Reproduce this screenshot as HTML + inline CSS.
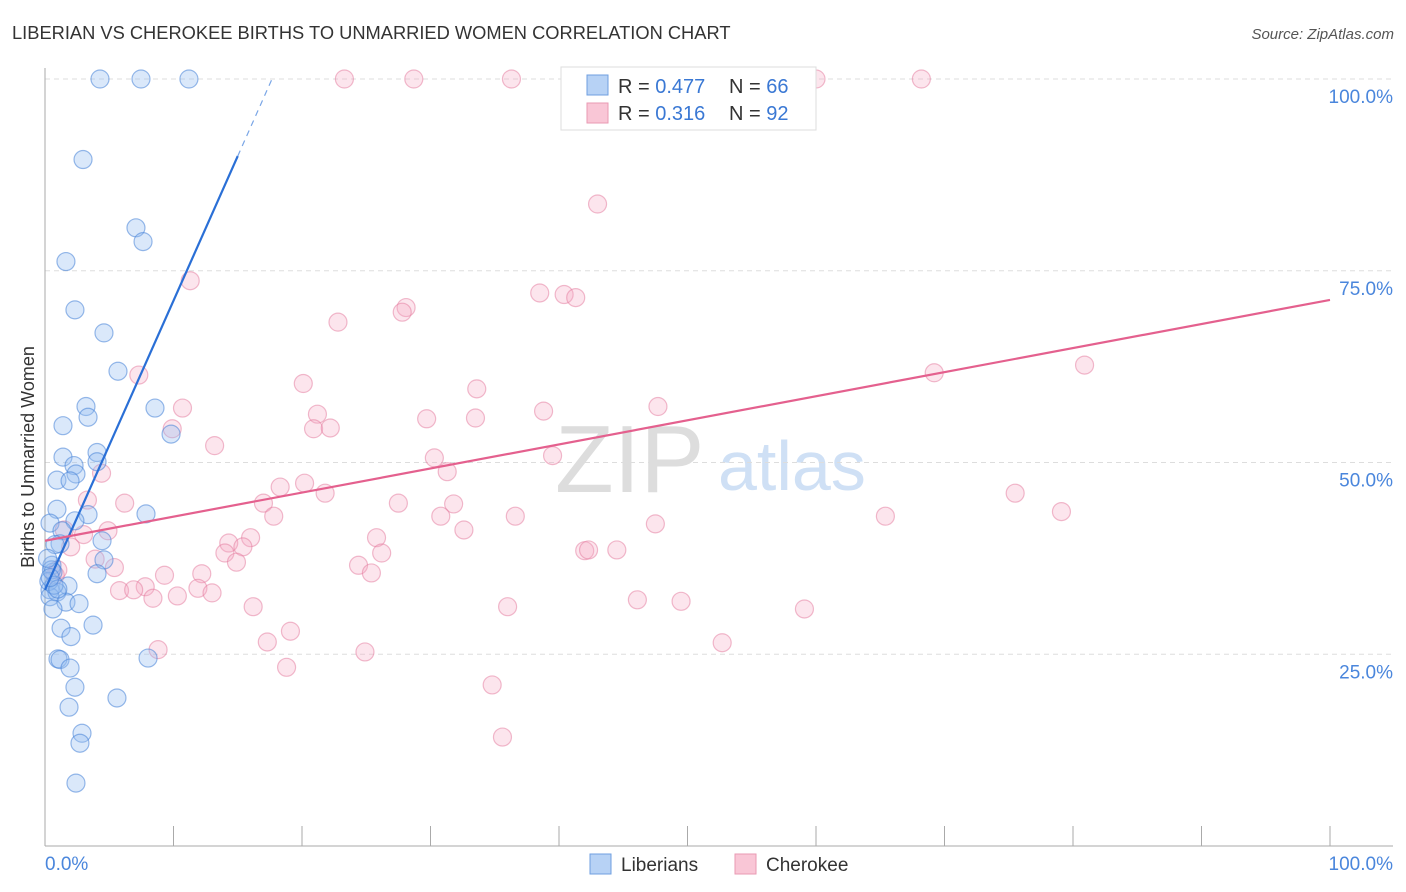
<!DOCTYPE html>
<html><head><meta charset="utf-8"><style>
body{margin:0;background:#fff;font-family:"Liberation Sans",sans-serif;}
#wrap{position:relative;width:1406px;height:892px;overflow:hidden;}
svg text{font-family:"Liberation Sans",sans-serif;}
</style></head><body>
<div id="wrap">
<svg id="chart" width="1406" height="892">
<text x="12" y="39" font-size="18.3" fill="#333">LIBERIAN VS CHEROKEE BIRTHS TO UNMARRIED WOMEN CORRELATION CHART</text>
<text x="1394" y="39" font-size="15" fill="#555" font-style="italic" text-anchor="end">Source: ZipAtlas.com</text>
<text transform="translate(34,457) rotate(-90)" font-size="18" fill="#333" text-anchor="middle">Births to Unmarried Women</text>
<text x="555" y="492" font-size="96" fill="#ddd" font-family="Liberation Serif,serif">ZIP</text>
<text x="718" y="490" font-size="70" fill="#cfe0f5">atlas</text>
<g id="grid"></g><g id="axes"></g><g id="pts"></g><g id="trends"></g>
<g>
<rect x="561" y="67" width="255" height="63" fill="#fff" stroke="#ddd"/>
<rect x="587" y="75" width="21" height="20" fill="#b7d2f5" stroke="#6f9fe0"/>
<rect x="587" y="103" width="21" height="20" fill="#f9c6d6" stroke="#e99ab3"/>
<text x="618" y="93" font-size="20" fill="#333">R = <tspan fill="#3a78d4">0.477</tspan></text>
<text x="729" y="93" font-size="20" fill="#333">N = <tspan fill="#3a78d4">66</tspan></text>
<text x="618" y="120" font-size="20" fill="#333">R =  <tspan fill="#3a78d4">0.316</tspan></text>
<text x="729" y="120" font-size="20" fill="#333">N = <tspan fill="#3a78d4">92</tspan></text>
</g>
<g>
<rect x="590" y="854" width="21" height="20" fill="#b7d2f5" stroke="#6f9fe0"/>
<text x="621" y="871" font-size="19" fill="#333">Liberians</text>
<rect x="735" y="854" width="21" height="20" fill="#f9c6d6" stroke="#e99ab3"/>
<text x="766" y="871" font-size="19" fill="#333">Cherokee</text>
</g>
</svg>
</div>
<script>
const yTicks=[25,50,75,100];
const yTickLabels=["25.0%","50.0%","75.0%","100.0%"];
const xTickLabels=["0.0%","100.0%"];
const blueX=[4.28,7.47,11.2,2.96,7.08,7.63,1.63,2.33,4.59,5.68,3.19,8.56,3.35,1.40,9.81,4.05,1.40,4.05,2.26,2.41,0.93,1.95,7.86,0.93,3.35,0.39,2.33,1.32,4.44,1.17,0.78,4.59,0.54,0.62,4.05,1.79,0.39,0.93,0.39,1.63,2.65,0.62,3.74,1.25,2.02,8.02,1.01,1.17,1.95,2.33,1.87,5.60,2.88,2.72,2.41,0.3,0.5,0.2,0.7,1.0,0.4];
const blueY=[100,100,100,89.5,80.6,78.8,76.2,69.9,66.9,61.9,57.3,57.1,55.9,54.8,53.7,51.3,50.7,50.1,49.6,48.5,47.7,47.6,43.3,43.9,43.2,42.1,42.4,41.1,39.8,39.4,39.3,37.3,36.6,35.7,35.5,33.9,33.4,33.1,32.5,31.8,31.6,30.9,28.8,28.4,27.3,24.5,24.4,24.3,23.2,20.7,18.1,19.3,14.7,13.4,8.2,34.5,36.0,37.5,34.0,33.5,35.0];
const pinkX=[23.3,28.7,36.3,53.2,60.0,68.2,43.0,38.5,40.4,41.3,11.3,28.1,27.8,22.8,7.3,20.1,33.6,69.2,80.9,10.7,21.2,38.8,47.7,29.7,33.5,9.9,20.9,22.2,13.2,30.3,39.5,31.3,4.4,18.3,20.2,21.8,3.3,6.2,17.0,27.5,31.8,75.5,17.8,30.8,36.6,65.4,79.1,32.6,47.5,4.9,3.0,1.5,16.0,25.8,14.3,15.4,14.0,26.2,42.0,42.3,44.5,3.9,14.9,24.4,5.4,25.4,9.3,12.2,0.8,7.8,5.8,6.9,11.9,13.0,8.4,10.3,16.2,36.0,46.1,49.5,59.1,19.1,17.3,52.7,8.8,24.9,18.8,34.8,35.6,1.0,2.0];
const pinkY=[100,100,100,100,100,100,83.7,72.1,71.9,71.5,73.7,70.2,69.6,68.3,61.4,60.3,59.6,61.7,62.7,57.1,56.3,56.7,57.3,55.7,55.8,54.4,54.4,54.5,52.2,50.6,50.9,48.8,48.6,46.8,47.3,46.0,45.1,44.7,44.7,44.7,44.6,46.0,43.0,43.0,43.0,43.0,43.6,41.2,42.0,41.1,40.6,41.2,40.2,40.2,39.5,39.0,38.2,38.2,38.5,38.6,38.6,37.4,37.0,36.6,36.3,35.6,35.3,35.5,35.3,33.8,33.3,33.4,33.6,33.0,32.3,32.6,31.2,31.2,32.1,31.9,30.9,28.0,26.6,26.5,25.6,25.3,23.3,21.0,14.2,36.0,39.0];
const blueTrend=[33.4,3.77];
const pinkTrend=[39.8,0.314];
const NS='http://www.w3.org/2000/svg';
const X0=45,X1=1330,Y0=846,Y100=79;
function sx(v){return X0+(X1-X0)*v/100;}
function sy(v){return Y0-(Y0-Y100)*v/100;}
function mk(p,tag,a){const e=document.createElementNS(NS,tag);for(const k in a)e.setAttribute(k,a[k]);p.appendChild(e);return e;}
const grid=document.getElementById('grid'),axes=document.getElementById('axes'),pts=document.getElementById('pts'),tr=document.getElementById('trends');
yTicks.forEach((t,i)=>{
 const l=mk(grid,'line',{x1:X0,x2:1393,y1:sy(t),y2:sy(t),stroke:'#ddd','stroke-dasharray':'5,4'});
 
 
 const tx=mk(grid,'text',{x:1393,y:sy(t)+24,'font-size':19,fill:'#4a86dc','text-anchor':'end'});
 tx.textContent=yTickLabels[i];
 
 
});
let a=mk(axes,'line',{x1:X0,x2:X0,y1:68,y2:Y0,stroke:'#aaa'});


a=mk(axes,'line',{x1:X0,x2:1393,y1:Y0,y2:Y0,stroke:'#aaa'});


for(let i=0;i<=10;i++){
 const t=mk(axes,'line',{x1:sx(i*10),x2:sx(i*10),y1:826,y2:Y0,stroke:'#aaa'});
 
 
}
[[0,'start',X0],[1,'end',1393]].forEach(([i,anc,x])=>{
 const t=mk(axes,'text',{x:x,y:870,'font-size':19,fill:'#4a86dc','text-anchor':anc});
 t.textContent=xTickLabels[i];
 
 
});
pinkX.forEach((v,i)=>{
 const c=mk(pts,'circle',{cx:sx(v),cy:sy(pinkY[i]),r:9,fill:'rgba(245,170,195,0.3)',stroke:'rgba(228,120,155,0.5)','stroke-width':1.2});
 
 
});
blueX.forEach((v,i)=>{
 const c=mk(pts,'circle',{cx:sx(v),cy:sy(blueY[i]),r:9,fill:'rgba(150,190,240,0.35)',stroke:'rgba(70,130,215,0.55)','stroke-width':1.2});
 
 
});
const bEnd=15, bMax=(100-blueTrend[0])/blueTrend[1];
let l=mk(tr,'line',{x1:sx(0),y1:sy(blueTrend[0]),x2:sx(bEnd),y2:sy(blueTrend[0]+blueTrend[1]*bEnd),stroke:'#2a6fd6','stroke-width':2.2});


l=mk(tr,'line',{x1:sx(bEnd),y1:sy(blueTrend[0]+blueTrend[1]*bEnd),x2:sx(bMax),y2:sy(100),stroke:'#7aa6e6','stroke-width':1.2,'stroke-dasharray':'6,5'});


l=mk(tr,'line',{x1:sx(0),y1:sy(pinkTrend[0]),x2:sx(100),y2:sy(pinkTrend[0]+pinkTrend[1]*100),stroke:'#e4608e','stroke-width':2.2});


</script>
</body></html>
